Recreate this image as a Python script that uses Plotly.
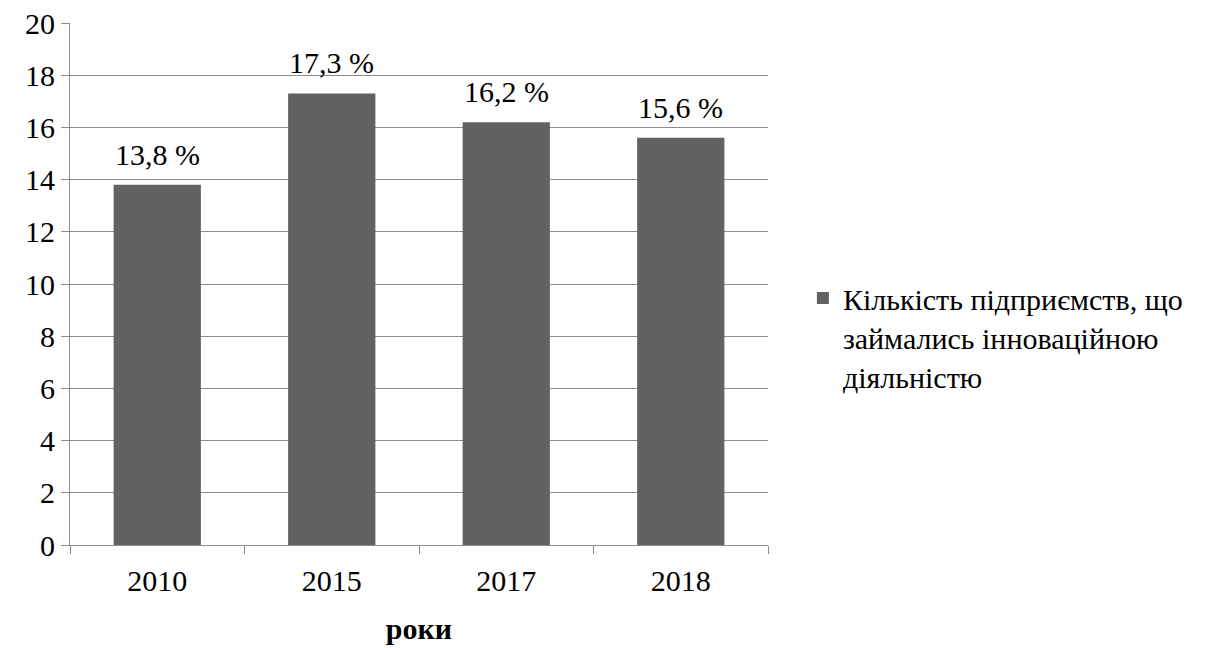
import plotly.graph_objects as go

years = ["2010", "2015", "2017", "2018"]
values = [13.8, 17.3, 16.2, 15.6]
series_name = "Кількість підприємств, що<br>займались інноваційною<br>діяльністю"
y_ticks = [0, 2, 4, 6, 8, 10, 12, 14, 16, 18, 20]

labels = [f"{v:.1f}".replace(".", ",") + " %" for v in values]

FONT = "Liberation Serif"
GRID = "#8c8c8c"
OFF = 8  # default body margin of the html page

fig = go.Figure()
fig.add_trace(go.Bar(
    x=years, y=values, name=series_name,
    marker=dict(color="#626262", line=dict(width=0)),
    showlegend=True,
))
# value labels above the bars (category index positions)
for i, (v, lab) in enumerate(zip(values, labels)):
    fig.add_annotation(x=i, y=v, xref="x", yref="y", text=lab, showarrow=False,
                       yanchor="bottom", yshift=12,
                       font=dict(family=FONT, size=30, color="black"))

fig.update_layout(
    width=1211, height=648,
    margin=dict(l=70 - OFF, r=443 + OFF, t=23 - OFF, b=103 + OFF, autoexpand=False),
    paper_bgcolor="white", plot_bgcolor="white",
    font=dict(family=FONT, size=30, color="black"),
    bargap=0.5,
    showlegend=True,
    legend=dict(x=1.05, y=0.523, xanchor="left", yanchor="top",
                valign="top", font=dict(family=FONT, size=30, color="black"),
                bgcolor="rgba(0,0,0,0)", itemwidth=30),
    xaxis=dict(
        type="category", tickangle=0,
        automargin=False, range=[-0.5, len(years) - 0.5],
        showline=True, linecolor=GRID, linewidth=1,
        ticks="outside", tickson="boundaries", ticklen=8, tickcolor=GRID,
        showgrid=False, ticklabelstandoff=9,
        tickfont=dict(family=FONT, size=30, color="black"),
        title=dict(text="<b>роки</b>", font=dict(family=FONT, size=30, color="black"), standoff=21),
    ),
    yaxis=dict(
        automargin=False, ticklabeloverflow="allow",
        range=[0, 20], tickvals=y_ticks, ticksuffix="\u00a0\u00a0\u00a0",
        showline=True, linecolor=GRID, linewidth=1,
        ticks="outside", ticklen=8, tickcolor=GRID,
        showgrid=True, gridcolor=GRID, gridwidth=1,
        zeroline=False,
        tickfont=dict(family=FONT, size=30, color="black"),
    ),
)

fig.write_html("out.html")
